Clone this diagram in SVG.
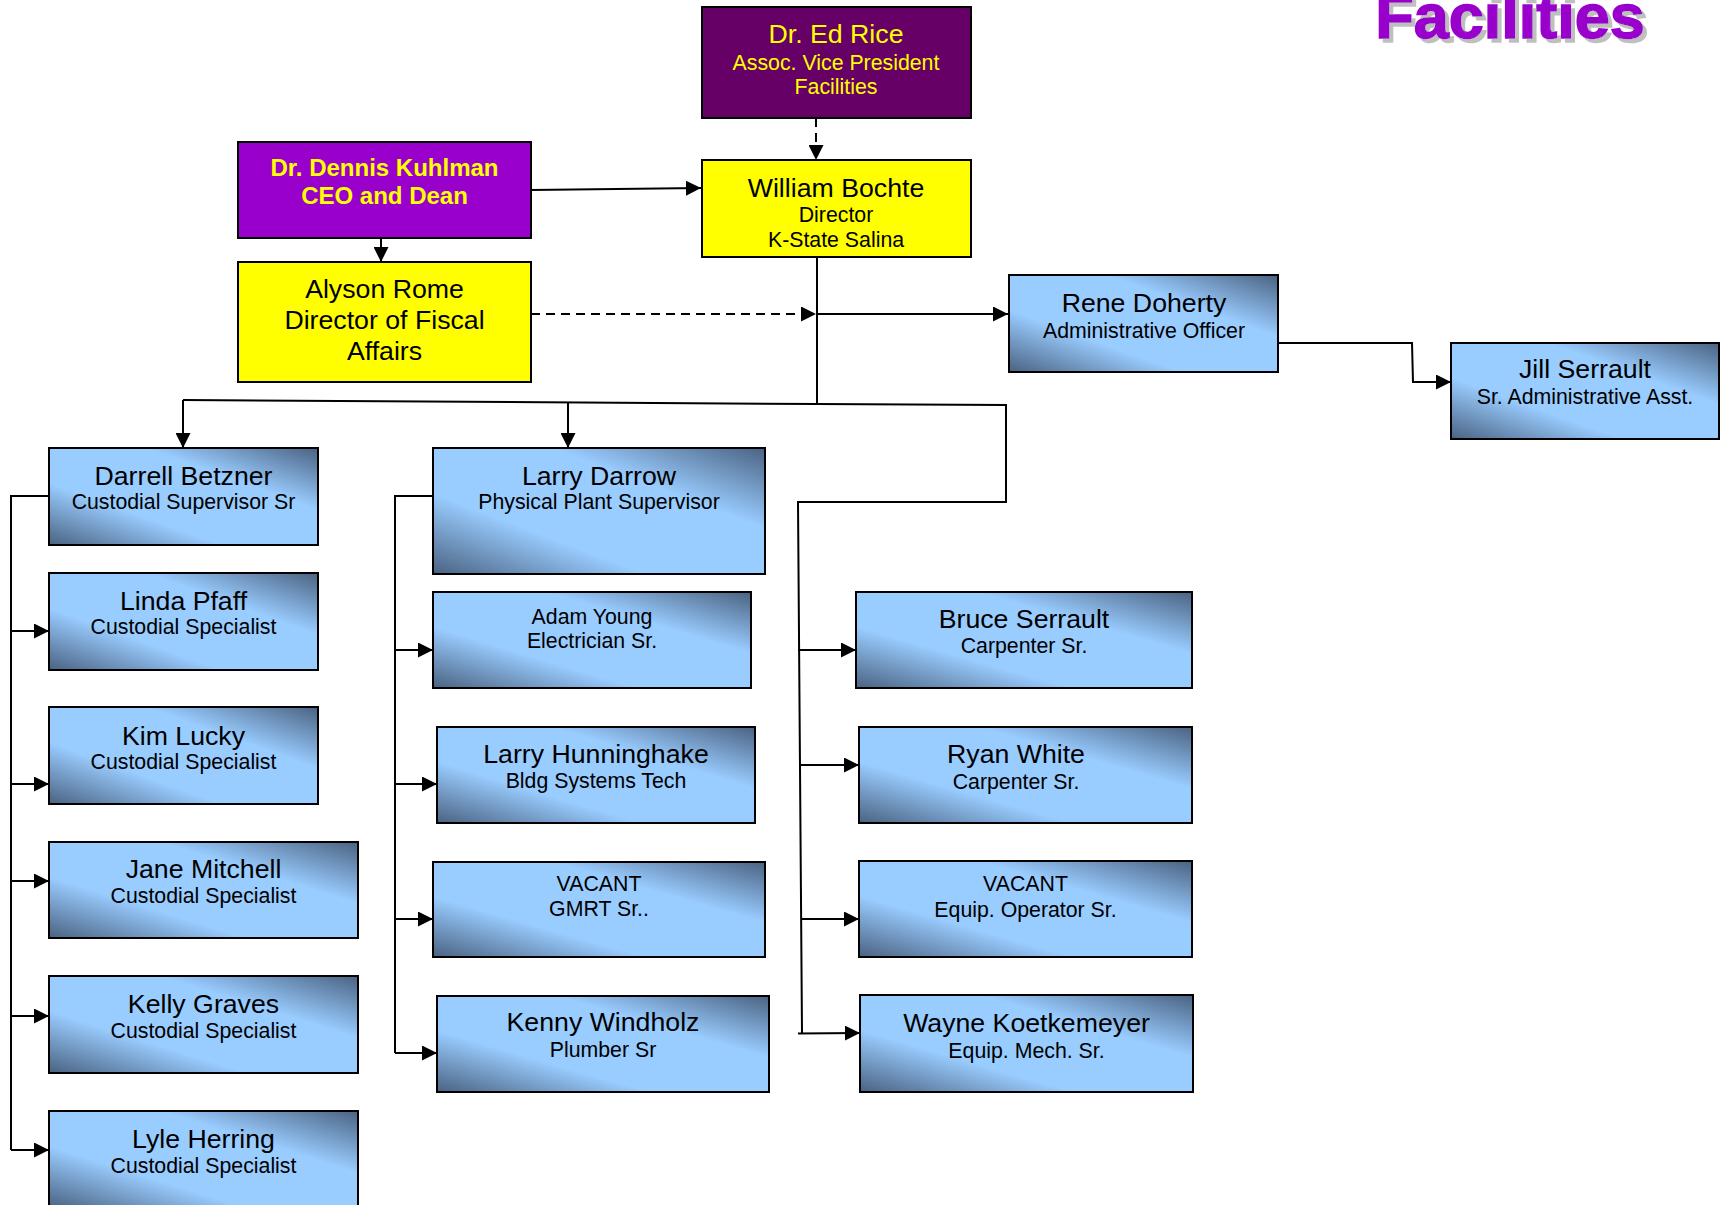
<svg xmlns="http://www.w3.org/2000/svg" width="1720" height="1205" viewBox="0 0 1720 1205">
<style>
text{font-family:"Liberation Sans",Arial,sans-serif;text-anchor:middle;fill:#000}
.n{font-size:26.7px}
.t{font-size:21.3px}
.y{fill:#FFFF00}
.b{font-weight:bold;font-size:24px}
.box{fill:url(#blu);stroke:#000;stroke-width:2}
.yb{fill:#FFFF00;stroke:#000;stroke-width:2}
.c{fill:none;stroke:#000;stroke-width:2}
.a{marker-end:url(#ah)}
.d{stroke-dasharray:9,6}
</style>
<defs>
<linearGradient id="blu" x1="1" y1="0" x2="0" y2="1">
<stop offset="0" stop-color="#4a6281"/>
<stop offset="0.32" stop-color="#99ccff"/>
<stop offset="0.68" stop-color="#99ccff"/>
<stop offset="1" stop-color="#4a6281"/>
</linearGradient>
<marker id="ah" markerUnits="userSpaceOnUse" markerWidth="15" markerHeight="15" refX="15" refY="7.5" orient="auto">
<path d="M0,0 L15,7.5 L0,15 z" fill="#000"/>
</marker>
<filter id="shadow" x="-5%" y="-20%" width="115%" height="150%">
<feOffset in="SourceAlpha" dx="4" dy="4" result="off"/>
<feFlood flood-color="#bfbfbf"/>
<feComposite in2="off" operator="in" result="sh"/>
<feMerge><feMergeNode in="sh"/><feMergeNode in="SourceGraphic"/></feMerge>
</filter>
</defs>
<rect width="1720" height="1205" fill="#fff"/>

<g id="title">
<text x="1510" y="38" filter="url(#shadow)" style="font-size:63px;font-weight:bold;fill:#9900cc;stroke:#9900cc;stroke-width:1.5">Facilities</text>
</g>

<g id="connectors">
<path class="c d a" d="M816,118 L816,160"/>
<path class="c a" d="M531,190 L701,188"/>
<path class="c a" d="M381,238 L381,262"/>
<path class="c d a" d="M531,314 L816,314"/>
<path class="c" d="M817,257 L817,404"/>
<path class="c a" d="M817,314 L1008,314"/>
<path class="c" d="M183,400 L817,404 L1006,405 L1006,502 L798,502 L802,1033"/>
<path class="c a" d="M183,400 L183,448"/>
<path class="c a" d="M568,402.5 L568,448"/>
<path class="c" d="M49,496 L11,496 L11,1150"/>
<path class="c a" d="M11,631 L49,631"/>
<path class="c a" d="M11,784 L49,784"/>
<path class="c a" d="M11,881 L49,881"/>
<path class="c a" d="M11,1016 L49,1016"/>
<path class="c a" d="M11,1150 L49,1150"/>
<path class="c" d="M433,496 L395,496 L395,1053"/>
<path class="c a" d="M395,650 L433,650"/>
<path class="c a" d="M395,784 L437,784"/>
<path class="c a" d="M395,919 L433,919"/>
<path class="c a" d="M395,1053 L437,1053"/>
<path class="c a" d="M798,650 L856,650"/>
<path class="c a" d="M801,765 L859,765"/>
<path class="c a" d="M802,919 L859,919"/>
<path class="c a" d="M798,1033.5 L860,1033"/>
<path class="c a" d="M1278,343 L1412,343 L1413,382 L1451,382"/>
</g>

<g id="ed-rice">
<rect x="702" y="7" width="269" height="111" fill="#660066" stroke="#000" stroke-width="2"/>
<text class="n y" x="836" y="42.5">Dr. Ed Rice</text>
<text class="t y" x="836" y="69.5">Assoc. Vice President</text>
<text class="t y" x="836" y="93.5">Facilities</text>
</g>

<g id="kuhlman">
<rect x="238" y="142" width="293" height="96" fill="#9900cc" stroke="#000" stroke-width="2"/>
<text class="b y" x="384.5" y="175.5">Dr. Dennis Kuhlman</text>
<text class="b y" x="384.5" y="203.5">CEO and Dean</text>
</g>

<g id="bochte">
<rect class="yb" x="702" y="160" width="269" height="97"/>
<text class="n" x="836" y="196.8">William Bochte</text>
<text class="t" x="836" y="222">Director</text>
<text class="t" x="836" y="247">K-State Salina</text>
</g>

<g id="rome">
<rect class="yb" x="238" y="262" width="293" height="120"/>
<text class="n" x="384.5" y="297.8">Alyson Rome</text>
<text class="n" x="384.5" y="328.5">Director of Fiscal</text>
<text class="n" x="384.5" y="359.5">Affairs</text>
</g>

<g id="doherty">
<rect class="box" x="1009" y="275" width="269" height="97"/>
<text class="n" x="1144" y="311.5">Rene Doherty</text>
<text class="t" x="1144" y="337.6">Administrative Officer</text>
</g>

<g id="jill-serrault">
<rect class="box" x="1451" y="343" width="268" height="96"/>
<text class="n" x="1585" y="377.8">Jill Serrault</text>
<text class="t" x="1585" y="404.3">Sr. Administrative Asst.</text>
</g>

<g id="betzner">
<rect class="box" x="49" y="448" width="269" height="97"/>
<text class="n" x="183.5" y="484.5">Darrell Betzner</text>
<text class="t" x="183.5" y="509.3">Custodial Supervisor Sr</text>
</g>

<g id="pfaff">
<rect class="box" x="49" y="573" width="269" height="97"/>
<text class="n" x="183.5" y="609.5">Linda Pfaff</text>
<text class="t" x="183.5" y="634.3">Custodial Specialist</text>
</g>

<g id="lucky">
<rect class="box" x="49" y="707" width="269" height="97"/>
<text class="n" x="183.5" y="744.5">Kim Lucky</text>
<text class="t" x="183.5" y="769.3">Custodial Specialist</text>
</g>

<g id="mitchell">
<rect class="box" x="49" y="842" width="309" height="96"/>
<text class="n" x="203.5" y="877.8">Jane Mitchell</text>
<text class="t" x="203.5" y="902.6">Custodial Specialist</text>
</g>

<g id="graves">
<rect class="box" x="49" y="976" width="309" height="97"/>
<text class="n" x="203.5" y="1012.8">Kelly Graves</text>
<text class="t" x="203.5" y="1037.6">Custodial Specialist</text>
</g>

<g id="herring">
<rect class="box" x="49" y="1111" width="309" height="97"/>
<text class="n" x="203.5" y="1147.8">Lyle Herring</text>
<text class="t" x="203.5" y="1172.6">Custodial Specialist</text>
</g>

<g id="darrow">
<rect class="box" x="433" y="448" width="332" height="126"/>
<text class="n" x="599" y="484.5">Larry Darrow</text>
<text class="t" x="599" y="509.3">Physical Plant Supervisor</text>
</g>

<g id="young">
<rect class="box" x="433" y="592" width="318" height="96"/>
<text class="t" x="592" y="623.6">Adam Young</text>
<text class="t" x="592" y="647.6">Electrician Sr.</text>
</g>

<g id="hunninghake">
<rect class="box" x="437" y="727" width="318" height="96"/>
<text class="n" x="596" y="762.8">Larry Hunninghake</text>
<text class="t" x="596" y="788.3">Bldg Systems Tech</text>
</g>

<g id="vacant-gmrt">
<rect class="box" x="433" y="862" width="332" height="95"/>
<text class="t" x="599" y="891">VACANT</text>
<text class="t" x="599" y="916">GMRT Sr..</text>
</g>

<g id="windholz">
<rect class="box" x="437" y="996" width="332" height="96"/>
<text class="n" x="603" y="1031.2">Kenny Windholz</text>
<text class="t" x="603" y="1056.6">Plumber Sr</text>
</g>

<g id="bruce-serrault">
<rect class="box" x="856" y="592" width="336" height="96"/>
<text class="n" x="1024" y="627.8">Bruce Serrault</text>
<text class="t" x="1024" y="653.3">Carpenter Sr.</text>
</g>

<g id="white">
<rect class="box" x="859" y="727" width="333" height="96"/>
<text class="n" x="1016" y="762.8">Ryan White</text>
<text class="t" x="1016" y="788.6">Carpenter Sr.</text>
</g>

<g id="vacant-equip">
<rect class="box" x="859" y="861" width="333" height="96"/>
<text class="t" x="1025.5" y="891">VACANT</text>
<text class="t" x="1025.5" y="917">Equip. Operator Sr.</text>
</g>

<g id="koetkemeyer">
<rect class="box" x="860" y="995" width="333" height="97"/>
<text class="n" x="1026.5" y="1032.2">Wayne Koetkemeyer</text>
<text class="t" x="1026.5" y="1057.6">Equip. Mech. Sr.</text>
</g>
</svg>
